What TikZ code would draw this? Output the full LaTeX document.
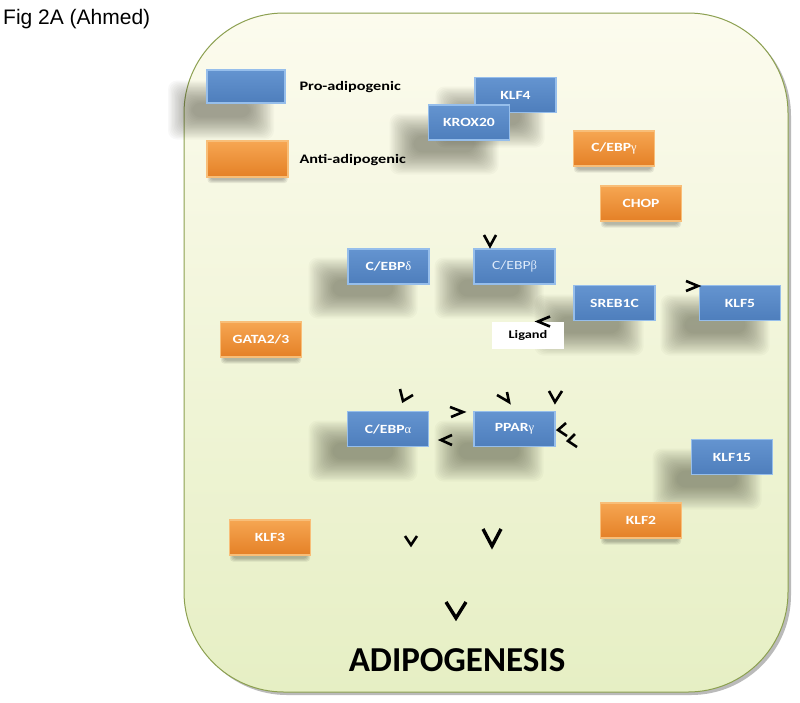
\documentclass[tikz,border=0pt]{standalone}
\usepackage{fontspec}
\setmainfont{Carlito}
\newfontfamily\arialf{Liberation Sans}
\newfontfamily\boxf{Carlito}[FakeStretch=1.25]
\newfontfamily\grk{Liberation Serif}
\definecolor{blueT}{RGB}{100,148,208}
\definecolor{blueB}{RGB}{78,126,188}
\definecolor{blueE}{RGB}{150,190,235}
\definecolor{orT}{RGB}{246,166,82}
\definecolor{orB}{RGB}{228,128,38}
\definecolor{orE}{RGB}{248,190,120}
\definecolor{bgtop}{RGB}{252,251,238}
\definecolor{bgbot}{RGB}{230,239,196}
\definecolor{bord}{RGB}{140,160,80}
\definecolor{betatext}{RGB}{222,234,250}
\definecolor{shadowc}{RGB}{60,60,45}
\newcommand\blurshadow[4]{%
  \foreach \k in {0,...,17}{%
    \fill[shadowc, opacity=0.032, rounded corners=9pt]
      ({#1-#3/2-14+1.4*\k},{#2-#4/2-13+1.3*\k}) rectangle
      ({#1+#3/2+14-1.4*\k},{#2+#4/2+13-1.3*\k});
  }}
\newcommand\smallshadow[2]{%
  \foreach \k in {0,...,3}{%
    \fill[black, opacity=0.07, rounded corners=3pt]
      ({#1-40+\k},{#2-14+\k}) rectangle ({#1+40-\k},{#2+21-\k});
  }}
\tikzset{
  gbox/.style={rectangle, minimum width=81pt, minimum height=35pt, inner sep=0pt,
    font=\boxf\bfseries\fontsize{12.5}{14}\selectfont, text=white, line width=1.6pt},
  bluebox/.style={gbox, top color=blueT, bottom color=blueB, draw=blueE},
  orbox/.style={gbox, top color=orT, bottom color=orB, draw=orE},
  legtext/.style={anchor=west, font=\boxf\bfseries\fontsize{13}{15}\selectfont, text=black},
  chev/.style={draw=black, line width=2.6pt, line join=miter, line cap=butt},
  bigchev/.style={chev, line width=3.4pt},
}
\begin{document}
\begin{tikzpicture}[x=1pt, y=-1pt]
\useasboundingbox (0,0) rectangle (800,702);
\fill[white] (0,0) rectangle (800,702);
% main panel
\fill[black!45, opacity=0.6, rounded corners=100pt] (187,16) rectangle (791,695);
\shade[top color=bgtop, bottom color=bgbot, draw=bord, line width=1pt, rounded corners=100pt]
  (184,13) rectangle (788,692);
\node[anchor=west, font=\arialf\fontsize{21}{24}\selectfont, inner sep=0pt] (title) at (3,19) {Fig 2A (Ahmed)};
% shadows of blue boxes
\blurshadow{221}{110}{78}{33}
\blurshadow{490}{117}{81}{35}
\blurshadow{444}{144}{81}{35}
\blurshadow{363}{288}{81}{35}
\blurshadow{489}{288}{81}{35}
\blurshadow{589}{325}{81}{35}
\blurshadow{715}{325}{81}{35}
\blurshadow{363}{451}{81}{35}
\blurshadow{489}{451}{81}{35}
\blurshadow{707}{479}{81}{35}
% small shadows of orange boxes
\smallshadow{247.5}{162}
\smallshadow{614}{151.5}
\smallshadow{641}{206.5}
\smallshadow{261}{342.5}
\smallshadow{641}{523.5}
\smallshadow{270}{540.5}
% legend
\node[bluebox, minimum width=78pt, minimum height=33pt] (legP) at (246,86.5) {};
\node[orbox, minimum height=36pt] (legA) at (247.5,159) {};
\node[legtext] (legPt) at (296,87) {Pro-adipogenic};
\node[legtext] (legAt) at (296,160) {Anti-adipogenic};
% boxes
\node[bluebox] (klf4) at (515.5,95) {KLF4};
\node[bluebox] (krox) at (469,122.5) {KROX20};
\node[orbox] (cebpg) at (614,148.5) {C/EBP{\grk\mdseries γ}};
\node[orbox] (chop) at (641,203.5) {CHOP};
\node[bluebox] (cebpd) at (388.5,266.5) {C/EBP{\grk\mdseries δ}};
\node[bluebox, text=betatext, font=\boxf\fontsize{12.5}{14}\selectfont] (cebpb) at (514.5,266.5) {C/EBP{\grk β}};
\node[bluebox] (sreb) at (614.5,303) {SREB1C};
\node[bluebox] (klf5) at (740,303) {KLF5};
\node[fill=white, minimum width=72pt, minimum height=27pt, inner sep=0pt,
  font=\boxf\bfseries\fontsize{11.5}{13}\selectfont] (lig) at (528,335.5) {Ligand\hspace{20pt}};
\node[orbox] (gata) at (261,339.5) {GATA2/3};
\node[bluebox] (cebpa) at (388,429) {C/EBP{\grk\mdseries α}};
\node[bluebox] (pparg) at (514.5,429) {PPAR{\grk\mdseries γ}};
\node[bluebox] (klf15) at (732,457) {KLF15};
\node[orbox] (klf2) at (641,520.5) {KLF2};
\node[orbox] (klf3) at (270,537.5) {KLF3};
\node[font=\bfseries\fontsize{35}{40}\selectfont] (adipo) at (457,660) {ADIPOGENESIS};
% arrowheads (lines lost in the original)
\draw[chev] (484,235) -- (490,246) -- (496,235);
\draw[chev] (550,316.5) -- (538,321.5) -- (550,326.5);
\draw[chev] (686,281) -- (698,286) -- (686,291);
\draw[chev] (400,389) -- (403,401) -- (413,395);
\draw[chev] (450,407) -- (463,412) -- (451,417);
\draw[chev] (452,435) -- (441,440) -- (452,445);
\draw[chev] (497,395) -- (509,402) -- (507,392);
\draw[chev] (549,391) -- (555,402) -- (562,391);
\draw[chev] (566,423) -- (558,430) -- (567,436);
\draw[chev] (575,434) -- (568,441) -- (577,447);
\draw[chev] (405,536) -- (411,545) -- (417,536);
\draw[bigchev] (483,529) -- (492,546) -- (501,529);
\draw[bigchev] (446,602) -- (456,618) -- (466,602);
\end{tikzpicture}
\end{document}
